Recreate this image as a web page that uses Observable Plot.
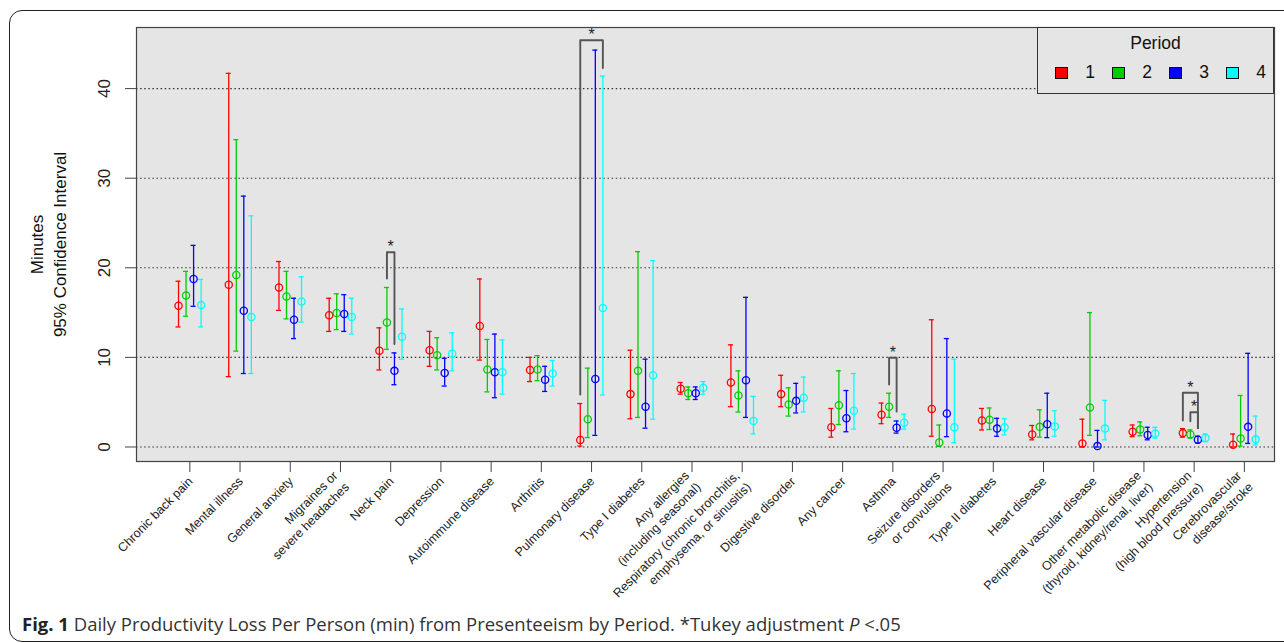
<!DOCTYPE html>
<html><head><meta charset="utf-8">
<script src="https://cdn.jsdelivr.net/npm/d3@7"></script>
<script src="https://cdn.jsdelivr.net/npm/@observablehq/plot@0.6"></script>
<style>
html,body{margin:0;padding:0;background:#fff;overflow:hidden;width:1284px;height:643px;}
#wrap{position:relative;width:1284px;height:643px;overflow:hidden;}
#frame{position:absolute;left:9px;top:10px;width:1600px;height:632px;border:1.5px solid #222;border-radius:13px;box-sizing:border-box;}
#chart{position:absolute;left:0;top:0;}
#legend{position:absolute;left:1037px;top:27px;width:237px;height:67px;border:1px solid #333;background:#e5e5e5;box-sizing:border-box;font-family:"Liberation Sans",Arial,sans-serif;color:#111;}
#legend .t{position:absolute;left:0;width:100%;top:5px;text-align:center;font-size:17.5px;}
#legend .sw{position:absolute;width:13px;height:12px;border:1px solid #111;box-sizing:border-box;}
#legend .lb{position:absolute;font-size:17.5px;width:20px;text-align:center;}
#caption{position:absolute;left:22px;top:611px;font-family:"Open Sans",sans-serif;font-size:18.5px;color:#333;white-space:nowrap;}
#caption b{color:#222;}
</style></head>
<body><div id="wrap"><div id="frame"></div><div id="chart"></div><div id="legend"></div>
<div id="caption"><b>Fig. 1</b> Daily Productivity Loss Per Person (min) from Presenteeism by Period. *Tukey adjustment <i>P</i> &lt;.05</div></div>
<script>
const categories = [
  "Chronic back pain", "Mental illness", "General anxiety", "Migraines or\nsevere headaches",
  "Neck pain", "Depression", "Autoimmune disease", "Arthritis", "Pulmonary disease",
  "Type I diabetes", "Any allergies\n(including seasonal)",
  "Respiratory (chronic bronchitis,\nemphysema, or sinusitis)", "Digestive disorder",
  "Any cancer", "Asthma", "Seizure disorders\nor convulsions", "Type II diabetes",
  "Heart disease", "Peripheral vascular disease",
  "Other metabolic disease\n(thyroid, kidney/renal, liver)",
  "Hypertension\n(high blood pressure)", "Cerebrovascular\ndisease/stroke"
];
const periods = ["1", "2", "3", "4"];
const periodColors = ["#ff0000", "#00cd00", "#0000ff", "#00ffff"];
const yTicks = [0, 10, 20, 30, 40];

// Period 1
const mean1 = [15.77, 18.1, 17.8, 14.7, 10.75, 10.8, 13.5, 8.6, 0.78, 5.9, 6.5, 7.2, 5.9, 2.2, 3.6, 4.25, 2.95, 1.4, 0.4, 1.7, 1.55, 0.25];
const lo1   = [13.4, 7.85, 15.25, 12.9, 8.6, 9.0, 9.7, 7.3, 0.1, 3.15, 5.9, 4.5, 4.5, 1.1, 2.6, 1.2, 1.9, 0.8, 0.0, 1.15, 1.1, 0.0];
const hi1   = [18.5, 41.7, 20.7, 16.6, 13.3, 12.9, 18.75, 10.0, 4.85, 10.8, 7.2, 11.4, 8.0, 4.3, 4.9, 14.2, 4.3, 2.4, 3.1, 2.45, 2.05, 1.45];
// Period 2
const mean2 = [16.9, 19.2, 16.8, 14.95, 13.9, 10.25, 8.65, 8.65, 3.1, 8.5, 6.0, 5.75, 4.75, 4.65, 4.5, 0.5, 3.05, 2.25, 4.4, 1.95, 1.4, 0.95];
const lo2   = [14.6, 10.7, 14.3, 13.1, 10.9, 8.6, 6.15, 7.4, 1.05, 3.3, 5.3, 3.9, 3.45, 2.5, 3.3, 0.07, 1.95, 1.1, 1.3, 1.25, 1.0, 0.1];
const hi2   = [19.6, 34.3, 19.6, 17.1, 17.8, 12.2, 12.0, 10.2, 8.8, 21.8, 6.7, 8.5, 6.6, 8.5, 6.0, 2.45, 4.35, 4.15, 15.0, 2.8, 1.9, 5.75];
// Period 3
const mean3 = [18.75, 15.2, 14.2, 14.85, 8.5, 8.25, 8.35, 7.5, 7.6, 4.5, 6.0, 7.45, 5.15, 3.2, 2.15, 3.75, 2.05, 2.55, 0.1, 1.35, 0.8, 2.25];
const lo3   = [15.7, 8.2, 12.1, 12.9, 6.95, 6.8, 5.5, 6.2, 1.3, 2.1, 5.3, 3.3, 3.8, 1.7, 1.55, 1.15, 1.2, 1.05, 0.0, 0.8, 0.45, 0.4];
const hi3   = [22.5, 28.0, 16.6, 17.0, 10.5, 9.9, 12.6, 9.0, 44.3, 9.8, 6.7, 16.7, 7.1, 6.3, 2.9, 12.1, 3.2, 6.0, 1.85, 2.2, 1.2, 10.45];
// Period 4
const mean4 = [15.85, 14.5, 16.25, 14.5, 12.3, 10.4, 8.35, 8.2, 15.5, 8.0, 6.6, 2.9, 5.5, 4.05, 2.7, 2.2, 2.2, 2.3, 2.05, 1.5, 1.0, 0.85];
const lo4   = [13.4, 8.2, 13.95, 12.6, 9.8, 8.5, 5.9, 6.8, 5.8, 3.1, 5.9, 1.45, 3.9, 2.0, 2.0, 0.48, 1.35, 1.2, 0.8, 1.0, 0.6, 0.25];
const hi4   = [18.7, 25.8, 19.0, 16.6, 15.4, 12.75, 11.95, 9.65, 41.4, 20.8, 7.3, 5.65, 7.8, 8.2, 3.65, 9.8, 3.15, 4.05, 5.2, 2.2, 1.45, 3.45];

// Tukey significance brackets (category index, period from/to, heights)
const bracketCat   = [4, 8, 14, 20, 20];
const bracketFrom  = [2, 1, 2, 1, 2];
const bracketTo    = [3, 4, 3, 3, 3];
const bracketTop   = [21.74, 45.4, 9.96, 6.05, 3.88];
const bracketLeft  = [18.8, 5.86, 6.98, 2.96, 2.88];
const bracketRight = [11.5, 42.3, 3.96, 2.1, 2.1];

const means = [mean1, mean2, mean3, mean4];
const lows = [lo1, lo2, lo3, lo4];
const highs = [hi1, hi2, hi3, hi4];
const step = 0.15;
const px = (i, p) => i + (p - 2.5) * step; // p is 1-based period

const rows = [];
periods.forEach((p, j) => categories.forEach((c, i) => rows.push({
  cat: c, period: p, x: px(i, j + 1), mean: means[j][i], lo: lows[j][i], hi: highs[j][i]
})));

const bracketPts = [];
const stars = [];
bracketCat.forEach((c, k) => {
  const xl = px(c, bracketFrom[k]), xr = px(c, bracketTo[k]);
  bracketPts.push({id: k, x: xl, y: bracketLeft[k]}, {id: k, x: xl, y: bracketTop[k]},
                  {id: k, x: xr, y: bracketTop[k]}, {id: k, x: xr, y: bracketRight[k]});
  stars.push({x: (xl + xr) / 2, y: bracketTop[k]});
});

const cap = 0.05;
const chart = Plot.plot({
  width: 1284, height: 610,
  marginLeft: 136, marginRight: 10, marginTop: 27, marginBottom: 149,
  style: {fontFamily: "Liberation Sans, Arial, sans-serif", color: "#222", background: "transparent"},
  x: {type: "linear", domain: [-1.062, 21.6]},
  y: {domain: [-1.62, 46.82]},
  color: {domain: periods, range: periodColors},
  marks: [
    Plot.frame({fill: "#e5e5e5"}),
    Plot.ruleY(yTicks, {stroke: "#333", strokeDasharray: "1.5,2.6", strokeWidth: 1.1}),
    Plot.ruleX(rows, {x: "x", y1: "lo", y2: "hi", stroke: "period", strokeWidth: 1.3}),
    Plot.ruleY(rows, {y: "hi", x1: d => d.x - cap, x2: d => d.x + cap, stroke: "period", strokeWidth: 1.3}),
    Plot.ruleY(rows, {y: "lo", x1: d => d.x - cap, x2: d => d.x + cap, stroke: "period", strokeWidth: 1.3}),
    Plot.dot(rows, {x: "x", y: "mean", r: 3.6, stroke: "period", strokeWidth: 1.3, fill: "none"}),
    Plot.line(bracketPts, {x: "x", y: "y", z: "id", stroke: "#555", strokeWidth: 1.9}),
    Plot.text(stars, {x: "x", y: "y", text: () => "*", dy: -5, fontSize: 16, fill: "#222"}),
    Plot.frame({stroke: "#444", strokeWidth: 1.2}),
    Plot.axisY({ticks: yTicks, tickSize: 11, tickRotate: -90, tickPadding: 16, fontSize: 17, label: null, stroke: "#444"}),
    Plot.axisX({ticks: d3.range(categories.length), tickSize: 11, tickFormat: () => "", label: null, stroke: "#444"}),
    Plot.text(categories, {x: (d, i) => i, frameAnchor: "bottom", dy: 17, rotate: -45,
      textAnchor: "end", lineAnchor: "middle", fontSize: 12.5, lineHeight: 1.3, fill: "#222"}),
    Plot.text(["Minutes\n95% Confidence Interval"], {frameAnchor: "left", dx: -89, rotate: -90,
      textAnchor: "middle", lineAnchor: "middle", fontSize: 17, lineHeight: 1.35, fill: "#111"})
  ]
});
document.getElementById("chart").appendChild(chart);

// Legend
const lg = document.getElementById("legend");
const t = document.createElement("div"); t.className = "t"; t.textContent = "Period"; lg.appendChild(t);
periods.forEach((p, j) => {
  const s = document.createElement("div"); s.className = "sw";
  s.style.left = (17 + 57 * j) + "px"; s.style.top = "39px"; s.style.background = periodColors[j];
  lg.appendChild(s);
  const l = document.createElement("div"); l.className = "lb"; l.textContent = p;
  l.style.left = (42 + 57 * j) + "px"; l.style.top = "34px";
  lg.appendChild(l);
});
</script>
</body></html>
